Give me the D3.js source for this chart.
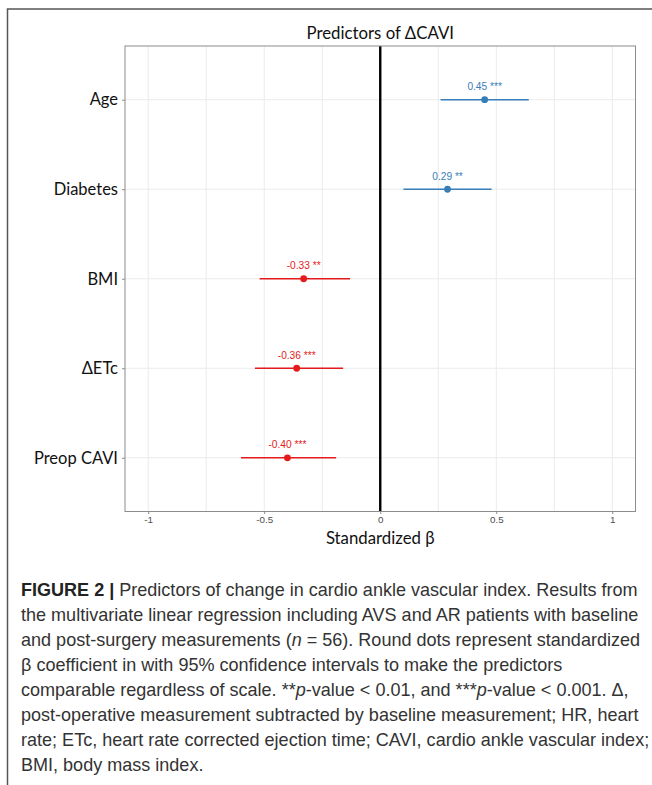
<!DOCTYPE html>
<html lang="en">
<head>
<meta charset="utf-8">
<title>Predictors of ΔCAVI</title>
<script src="https://d3js.org/d3.v7.min.js"></script>
<style>
  body { margin: 0; background: #fff; }
  .ylab, .xtitle, .title { font-family: "Lato", "Open Sans", sans-serif; fill: #111; }
  .xtick text { font-family: "Liberation Sans", Arial, sans-serif; font-size: 9.8px; fill: #4d4d4d; }
  .estlab { font-family: "Liberation Sans", Arial, sans-serif; font-size: 10.2px; }
  .caption { font-family: "Liberation Sans", Arial, sans-serif; font-size: 19px; fill: #333; }
</style>
</head>
<body>
<script>
// values
var predictors = ["Age", "Diabetes", "BMI", "ΔETc", "Preop CAVI"];
var estimates = [0.45, 0.29, -0.33, -0.36, -0.40];
var ciLow = [0.26, 0.10, -0.52, -0.54, -0.60];
var ciHigh = [0.64, 0.48, -0.13, -0.16, -0.19];
var stars = ["***", "**", "**", "***", "***"];
var xTicks = [-1, -0.5, 0, 0.5, 1];
var xMinor = [-0.75, -0.25, 0.25, 0.75];

var captionLines = [
  [["FIGURE 2 | ", "b"], ["Predictors of change in cardio ankle vascular index. Results from", ""]],
  [["the multivariate linear regression including AVS and AR patients with baseline", ""]],
  [["and post-surgery measurements (", ""], ["n", "i"], [" = 56). Round dots represent standardized", ""]],
  [["β coefficient in with 95% confidence intervals to make the predictors", ""]],
  [["comparable regardless of scale. **", ""], ["p", "i"], ["-value < 0.01, and ***", ""], ["p", "i"], ["-value < 0.001. Δ,", ""]],
  [["post-operative measurement subtracted by baseline measurement; HR, heart", ""]],
  [["rate; ETc, heart rate corrected ejection time; CAVI, cardio ankle vascular index;", ""]],
  [["BMI, body mass index.", ""]]
];

var width = 652, height = 785;
var blue = "#377eb8", red = "#e41a1c";

var svg = d3.select("body").append("svg")
  .attr("width", width)
  .attr("height", height);

// outer figure frame (left and top edges only visible)
svg.append("path")
  .attr("d", "M7.5," + height + "V9H" + width)
  .attr("fill", "none")
  .attr("stroke", "#555")
  .attr("stroke-width", 1.5);

var panel = { left: 125, right: 635.5, top: 46, bottom: 511.5 };

var x = d3.scaleLinear()
  .domain([-1.1, 1.1])
  .range([panel.left, panel.right]);

var y = d3.scalePoint()
  .domain(predictors)
  .range([panel.top, panel.bottom])
  .padding(0.6);

// grid
svg.append("g").selectAll("line.v")
  .data(xTicks.concat(xMinor))
  .enter().append("line")
  .attr("x1", function(d) { return x(d); })
  .attr("x2", function(d) { return x(d); })
  .attr("y1", panel.top)
  .attr("y2", panel.bottom)
  .attr("stroke", "#ebebeb")
  .attr("stroke-width", 1);

svg.append("g").selectAll("line")
  .data(predictors)
  .enter().append("line")
  .attr("x1", panel.left)
  .attr("x2", panel.right)
  .attr("y1", function(d) { return y(d); })
  .attr("y2", function(d) { return y(d); })
  .attr("stroke", "#ebebeb")
  .attr("stroke-width", 1);

// zero line
svg.append("line")
  .attr("x1", x(0)).attr("x2", x(0))
  .attr("y1", panel.top).attr("y2", panel.bottom)
  .attr("stroke", "#000")
  .attr("stroke-width", 2.4);

// panel border
svg.append("rect")
  .attr("x", panel.left)
  .attr("y", panel.top)
  .attr("width", panel.right - panel.left)
  .attr("height", panel.bottom - panel.top)
  .attr("fill", "none")
  .attr("stroke", "#8c8c8c")
  .attr("stroke-width", 1);

// x axis
var xAxis = svg.append("g")
  .attr("class", "xtick")
  .attr("transform", "translate(0," + panel.bottom + ")")
  .call(d3.axisBottom(x)
    .tickValues(xTicks)
    .tickSize(2.5)
    .tickPadding(2)
    .tickFormat(function(d) { return String(d); }));
xAxis.select(".domain").remove();
xAxis.selectAll(".tick line").attr("stroke", "#8c8c8c");

// y axis
var yAxis = svg.append("g")
  .attr("transform", "translate(" + panel.left + ",0)")
  .call(d3.axisLeft(y).tickSize(3).tickPadding(4));
yAxis.select(".domain").remove();
yAxis.selectAll(".tick line").attr("stroke", "#8c8c8c");
yAxis.selectAll(".tick text")
  .attr("class", "ylab")
  .attr("font-size", null)
  .attr("font-family", null)
  .style("font-size", "16.5px")
  .attr("fill", "#111");

var rows = predictors.map(function(p, i) {
  return { name: p, est: estimates[i], lo: ciLow[i], hi: ciHigh[i], star: stars[i] };
});
function col(d) { return d.est < 0 ? red : blue; }

svg.append("g").selectAll("line")
  .data(rows)
  .enter().append("line")
  .attr("x1", function(d) { return x(d.lo); })
  .attr("x2", function(d) { return x(d.hi); })
  .attr("y1", function(d) { return y(d.name); })
  .attr("y2", function(d) { return y(d.name); })
  .attr("stroke", col)
  .attr("stroke-width", 1.6);

svg.append("g").selectAll("circle")
  .data(rows)
  .enter().append("circle")
  .attr("cx", function(d) { return x(d.est); })
  .attr("cy", function(d) { return y(d.name); })
  .attr("r", 3.4)
  .attr("fill", col);

svg.append("g").selectAll("text")
  .data(rows)
  .enter().append("text")
  .attr("class", "estlab")
  .attr("x", function(d) { return x(d.est); })
  .attr("y", function(d) { return y(d.name) - 9.5; })
  .attr("text-anchor", "middle")
  .attr("fill", col)
  .text(function(d) { return d.est.toFixed(2) + " " + d.star; });

// titles
svg.append("text")
  .attr("class", "title")
  .attr("x", x(0))
  .attr("y", 38.5)
  .attr("text-anchor", "middle")
  .style("font-size", "16.8px")
  .text("Predictors of ΔCAVI");

svg.append("text")
  .attr("class", "xtitle")
  .attr("x", x(0))
  .attr("y", 543.5)
  .attr("text-anchor", "middle")
  .style("font-size", "16.8px")
  .text("Standardized β");

// caption: the original face is a condensed sans, so squeeze horizontally
var cap = svg.append("g").attr("class", "caption");
var capTexts = [];
captionLines.forEach(function(line, i) {
  var t = cap.append("text")
    .attr("x", 0)
    .attr("y", 596 + i * 25);
  line.forEach(function(seg) {
    var s = t.append("tspan").text(seg[0]);
    if (seg[1] === "b") s.attr("font-weight", "bold").attr("fill", "#222");
    if (seg[1] === "i") s.attr("font-style", "italic");
  });
  capTexts.push(t);
});
var firstW = capTexts[0].node().getComputedTextLength();
var sx = 617 / firstW;
cap.attr("transform", "translate(21,0) scale(" + sx + ",1)");
</script>
</body>
</html>
